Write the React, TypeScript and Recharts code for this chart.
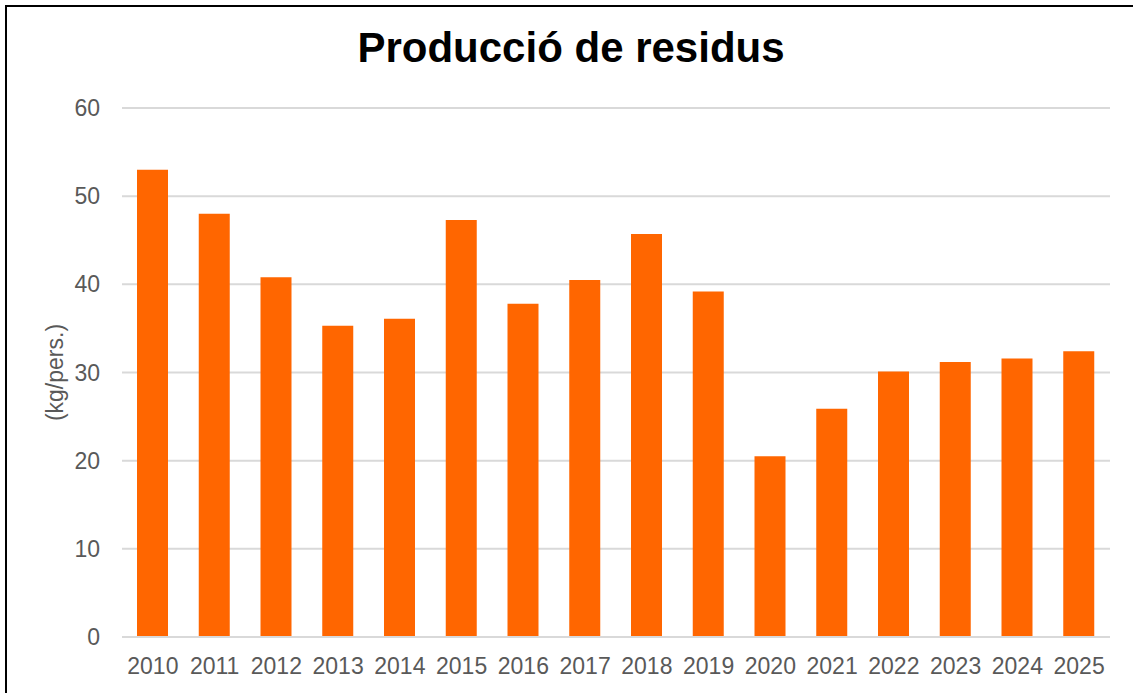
import { BarChart, Bar, XAxis, YAxis, CartesianGrid } from "recharts";

const YEARS = ["2010", "2011", "2012", "2013", "2014", "2015", "2016", "2017", "2018", "2019", "2020", "2021", "2022", "2023", "2024", "2025"];
const WASTE = [53, 48, 40.8, 35.3, 36.1, 47.3, 37.8, 40.5, 45.7, 39.2, 20.5, 25.9, 30.1, 31.2, 31.6, 32.4];
const Y_TICKS = [0, 10, 20, 30, 40, 50, 60];

const FONT = "'Liberation Sans', Arial, sans-serif";
const GREY = "#595959";
const GRID = "#d9d9d9";

const data = YEARS.map((year, i) => ({ year, value: WASTE[i] }));

const YLabel = (props: any) => {
  const vb = props.viewBox || {};
  const cx = 55;
  const cy = vb.y + vb.height / 2;
  return (
    <text
      x={cx}
      y={cy}
      transform={`rotate(-90 ${cx} ${cy})`}
      textAnchor="middle"
      dominantBaseline="central"
      fill={GREY}
      fontSize={23}
      fontFamily={FONT}
    >
      (kg/pers.)
    </text>
  );
};

export default function App() {
  return (
    <div style={{ position: "absolute", left: 0, top: 0, width: 1133, height: 693, overflow: "hidden", background: "#fff", fontFamily: FONT }}>
      <div
        style={{
          position: "absolute",
          left: 0,
          top: 27,
          width: 1142,
          textAlign: "center",
          fontSize: 42,
          lineHeight: "42px",
          fontWeight: "bold",
          color: "#000",
        }}
      >
        Producció de residus
      </div>
      <div style={{ position: "absolute", left: 0, top: 0 }}>
        <BarChart
          width={1133}
          height={693}
          data={data}
          margin={{ top: 108, right: 23, left: 62, bottom: 16 }}
          barSize={31}
        >
          <CartesianGrid horizontal vertical={false} stroke={GRID} strokeWidth={2} />
          <XAxis
            dataKey="year"
            height={40}
            tickLine={false}
            tickSize={0}
            tickMargin={21}
            axisLine={{ stroke: GRID, strokeWidth: 2 }}
            tick={{ fill: GREY, fontSize: 23, fontFamily: FONT }}
            interval={0}
          />
          <YAxis
            width={60}
            domain={[0, 60]}
            ticks={Y_TICKS}
            tickLine={false}
            tickSize={0}
            tickMargin={22}
            axisLine={false}
            tick={{ fill: GREY, fontSize: 23, fontFamily: FONT }}
            label={<YLabel />}
          />
          <Bar dataKey="value" fill="#FF6600" isAnimationActive={false} />
        </BarChart>
      </div>
      <div
        style={{
          position: "absolute",
          left: 5,
          top: 5,
          width: 1200,
          height: 720,
          border: "2px solid #000",
          boxSizing: "border-box",
          pointerEvents: "none",
        }}
      />
    </div>
  );
}
